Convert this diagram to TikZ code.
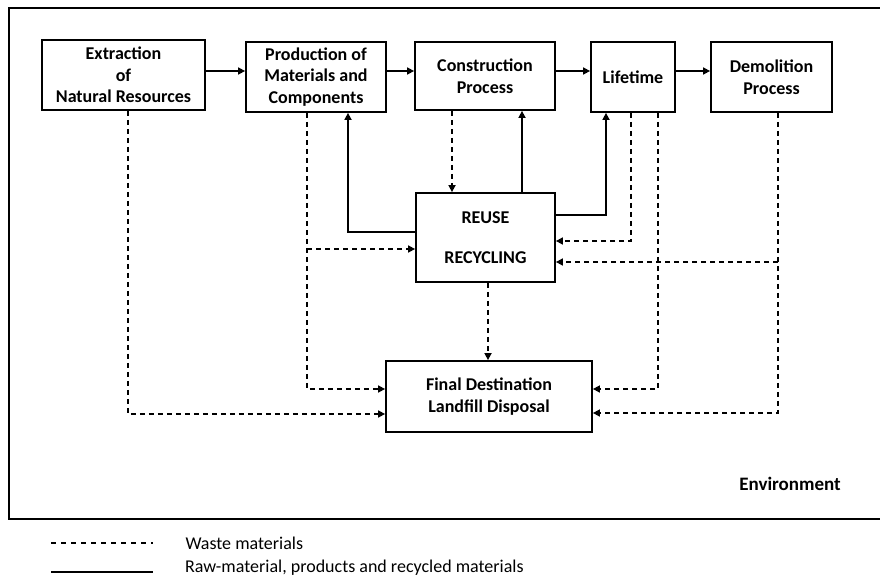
\documentclass[tikz,border=0pt]{standalone}
\usepackage{fontspec}
\setmainfont{Carlito}
\usetikzlibrary{arrows.meta}
\begin{document}
\begin{tikzpicture}[x=1pt,y=-1pt,>={Triangle[length=7pt,width=7pt]},
  every node/.style={font=\fontsize{18}{21.5}\selectfont},
  box/.style={draw,line width=1.8pt,inner sep=0pt,align=center,font=\fontsize{18}{21.5}\selectfont\bfseries},
  flow/.style={->,line width=1.6pt},
  waste/.style={->,line width=1.6pt,dash pattern=on 5pt off 4pt}]
  \useasboundingbox (0,0) rectangle (880,577);
  % environment frame
  \draw[line width=1.8pt] (884,8) -- (9,8) -- (9,519) -- (884,519);
  \node[font=\fontsize{19}{22}\selectfont\bfseries] (env) at (790,484) {Environment};
  % stages
  \node[box,minimum width=163pt,minimum height=70pt] (ext) at (123.5,75) {Extraction\\of\\Natural Resources};
  \node[box,minimum width=140pt,minimum height=70pt] (prod) at (316,77) {Production of\\Materials and\\Components};
  \node[box,minimum width=140pt,minimum height=68pt] (cons) at (485,76) {Construction\\Process};
  \node[box,minimum width=84pt,minimum height=70pt] (life) at (633,77) {Lifetime};
  \node[box,minimum width=121pt,minimum height=70pt] (demo) at (771.5,77) {Demolition\\Process};
  \node[box,minimum width=139pt,minimum height=89pt] (reuse) at (485.5,237.5) {REUSE\\[18pt]RECYCLING};
  \node[box,minimum width=206pt,minimum height=71pt] (final) at (489,396.5) {Final Destination\\Landfill Disposal};
  % main chain
  \draw[flow] (ext.east |- 0,71) -- (prod.west |- 0,71);
  \draw[flow] (prod.east |- 0,71) -- (cons.west |- 0,71);
  \draw[flow] (cons.east |- 0,71) -- (life.west |- 0,71);
  \draw[flow] (life.east |- 0,71) -- (demo.west |- 0,71);
  % recycled materials
  \draw[flow] (reuse.west |- 0,232) -| (prod.south -| 348,0);
  \draw[flow] (reuse.north -| 522,0) -- (cons.south -| 522,0);
  \draw[flow] (reuse.east |- 0,215) -| (life.south -| 606,0);
  % waste materials
  \draw[waste] (cons.south -| 452,0) -- (reuse.north -| 452,0);
  \draw[waste] (life.south -| 631,0) |- (reuse.east |- 0,241);
  \draw[waste] (life.south -| 658,0) |- (final.east |- 0,389);
  \coordinate (demobr) at (778,262);
  \draw[waste] (demo.south -| demobr) |- (final.east |- 0,413);
  \draw[waste] (demobr) -- (reuse.east |- demobr);
  \coordinate (prodbr) at (307,249);
  \draw[waste] (prod.south -| prodbr) |- (final.west |- 0,389);
  \draw[waste] (prodbr) -- (reuse.west |- prodbr);
  \draw[waste] (ext.south -| 128,0) |- (final.west |- 0,414);
  \draw[waste] (reuse.south -| 488,0) -- (final.north -| 488,0);
  % legend
  \coordinate (lga) at (51,543);
  \coordinate (lgb) at (153,543);
  \coordinate (lgc) at (51,572);
  \coordinate (lgd) at (153,572);
  \draw[line width=1.6pt,dash pattern=on 5pt off 5pt] (lga) -- (lgb);
  \draw[line width=1.6pt] (lgc) -- (lgd);
  \node[anchor=west] (lgwaste) at (182,543) {Waste materials};
  \node[anchor=base west,inner sep=0pt] (lgraw) at (185,572) {Raw-material, products and recycled materials};
\end{tikzpicture}
\end{document}
